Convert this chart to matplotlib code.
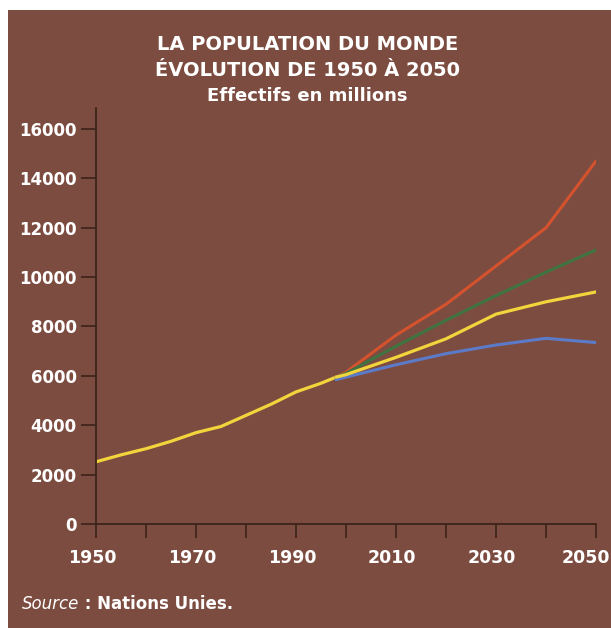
import matplotlib
matplotlib.use('Agg')
from matplotlib import pyplot as plt
from matplotlib.patches import Rectangle
from matplotlib.transforms import ScaledTranslation

# données (millions d'habitants)
years_hist = [1950, 1955, 1960, 1965, 1970, 1975, 1980, 1985, 1990, 1995, 1998]
pop_hist = [2520, 2800, 3050, 3350, 3700, 3950, 4400, 4850, 5350, 5700, 5950]

years_proj = [1998, 2000, 2010, 2020, 2030, 2040, 2050]
high = [5950, 6150, 7650, 8900, 10450, 12000, 14700]
mid_high = [5950, 6100, 7200, 8250, 9250, 10200, 11100]
medium = [5950, 6050, 6750, 7500, 8500, 9000, 9400]
low = [5850, 5950, 6450, 6900, 7250, 7520, 7350]

x_ticks = list(range(1950, 2051, 10))
x_labels = ['1950', '', '1970', '', '1990', '', '2010', '', '2030', '', '2050']
y_ticks = list(range(0, 16001, 2000))

bg = '#7d4c40'
axis_col = '#3b2419'
plt.rcParams['font.family'] = ['DejaVu Sans']

fig = plt.figure(figsize=(6.11, 6.28), dpi=100)
fig.patch.set_facecolor('white')
fig.patches.append(Rectangle((8 / 611, 0), 1, 1 - 10 / 628, transform=fig.transFigure,
                             facecolor=bg, edgecolor='none', zorder=-5))

ax = fig.add_axes([96 / 611, 104 / 628, 500 / 611, 416 / 628])
ax.set_facecolor('none')

ax.plot(years_hist, pop_hist, color='#f2d43c', lw=2.3, solid_capstyle='round')
ax.plot(years_proj, high, color='#d4532e', lw=2.2, solid_capstyle='round')
ax.plot(years_proj, mid_high, color='#3f7441', lw=2.2, solid_capstyle='round')
ax.plot(years_proj, low, color='#5b7bc9', lw=2.2, solid_capstyle='round')
ax.plot(years_proj, medium, color='#f2d43c', lw=2.3, solid_capstyle='round')

ax.set_xlim(1950, 2050)
ax.set_ylim(0, 16850)
ax.set_xticks(x_ticks)
ax.set_xticklabels(x_labels)
ax.set_yticks(y_ticks)
ax.set_yticklabels([str(v) for v in y_ticks])

for s in ['top', 'right']:
    ax.spines[s].set_visible(False)
for s in ['left', 'bottom']:
    ax.spines[s].set_color(axis_col)
    ax.spines[s].set_linewidth(1.3)

ax.tick_params(axis='both', colors=axis_col, width=1.2, labelcolor='white')
ax.tick_params(axis='y', direction='out', length=11, pad=3, labelsize=12)
ax.tick_params(axis='x', direction='out', length=10, pad=8, labelsize=12.5)
for lab in ax.get_xticklabels() + ax.get_yticklabels():
    lab.set_fontweight('bold')

# léger décalage des années vers la gauche, 2050 reste dans le cadre
xlabs = ax.get_xticklabels()
for i, lab in enumerate(xlabs):
    dx = -10 if i == len(xlabs) - 1 else -4
    lab.set_transform(lab.get_transform() + ScaledTranslation(dx / 100, 0, fig.dpi_scale_trans))

# titre
fig.text(0.503, 1 - 44 / 628, 'LA POPULATION DU MONDE', ha='center', va='center',
         color='white', fontsize=14, fontweight='bold')
fig.text(0.503, 1 - 70 / 628, 'ÉVOLUTION DE 1950 À 2050', ha='center', va='center',
         color='white', fontsize=14, fontweight='bold')
fig.text(0.503, 1 - 96 / 628, 'Effectifs en millions', ha='center', va='center',
         color='white', fontsize=13, fontweight='bold')

# source
t1 = fig.text(22 / 611, 1 - 604 / 628, 'Source', ha='left', va='center',
              color='white', fontsize=12, style='italic')
ax.annotate(' : Nations Unies.', xy=(1, 0.5), xycoords=t1, ha='left', va='center',
            color='white', fontsize=12, fontweight='bold')

plt.savefig('out.png', dpi=100, facecolor=fig.get_facecolor())
